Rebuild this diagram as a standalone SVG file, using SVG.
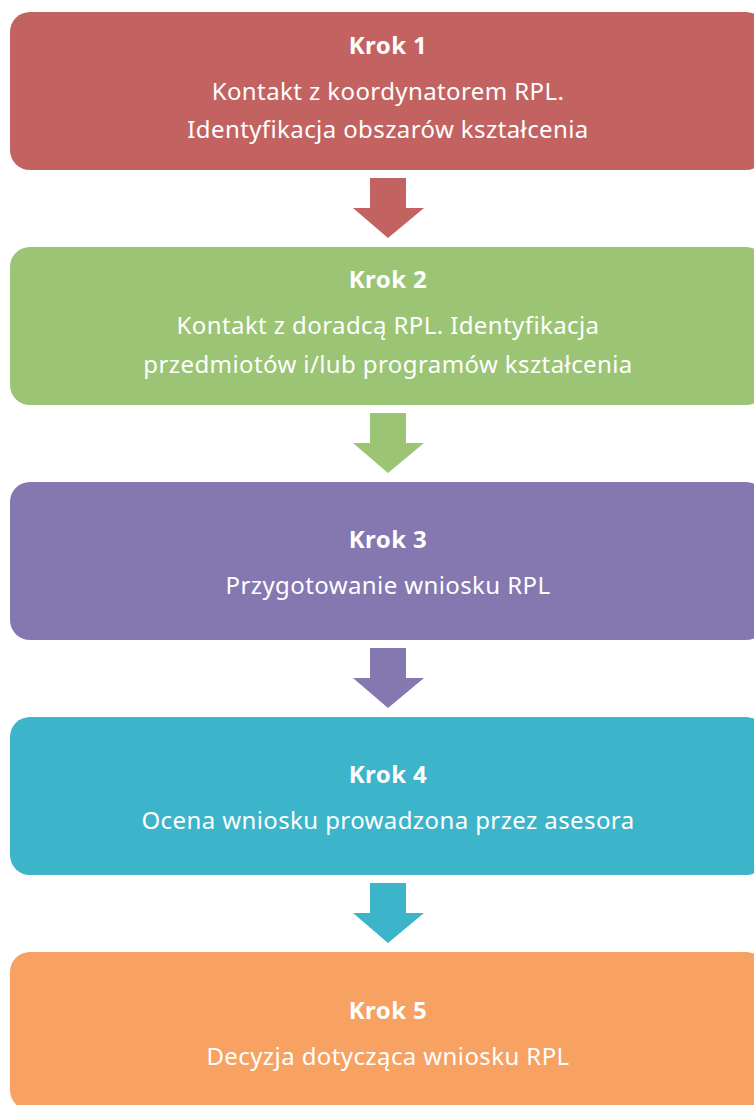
<svg xmlns="http://www.w3.org/2000/svg" width="754" height="1105" viewBox="0 0 754 1105">
<style>
.t{font-family:"Noto Sans",sans-serif;fill:#fff;text-anchor:middle;font-size:24px;letter-spacing:0.4px}
.h{font-weight:bold}
</style>
<rect width="754" height="1105" fill="#fff"/>
<g id="connectors">
<path d="M370,178 H406 V208 H424 L388,238 L353,208 H370 Z" fill="#C36361"/>
<path d="M370,413 H406 V443 H424 L388,473 L353,443 H370 Z" fill="#9BC475"/>
<path d="M370,648 H406 V678 H424 L388,708 L353,678 H370 Z" fill="#8577B0"/>
<path d="M370,883 H406 V913 H424 L388,943 L353,913 H370 Z" fill="#3CB4CA"/>
</g>
<g id="step1">
<rect x="10" y="12" width="756" height="158" rx="20" fill="#C36361"/>
<text class="t h" x="388" y="54">Krok 1</text>
<text class="t" x="388" y="100">Kontakt z koordynatorem RPL.</text>
<text class="t" x="388" y="138">Identyfikacja obszarów kształcenia</text>
</g>
<g id="step2">
<rect x="10" y="247" width="756" height="158" rx="20" fill="#9BC475"/>
<text class="t h" x="388" y="288">Krok 2</text>
<text class="t" x="388" y="334">Kontakt z doradcą RPL. Identyfikacja</text>
<text class="t" x="388" y="373">przedmiotów i/lub programów kształcenia</text>
</g>
<g id="step3">
<rect x="10" y="482" width="756" height="158" rx="20" fill="#8577B0"/>
<text class="t h" x="388" y="548">Krok 3</text>
<text class="t" x="388" y="594">Przygotowanie wniosku RPL</text>
</g>
<g id="step4">
<rect x="10" y="717" width="756" height="158" rx="20" fill="#3CB4CA"/>
<text class="t h" x="388" y="783">Krok 4</text>
<text class="t" x="388" y="829">Ocena wniosku prowadzona przez asesora</text>
</g>
<g id="step5">
<rect x="10" y="952" width="756" height="158" rx="20" fill="#F7A162"/>
<text class="t h" x="388" y="1019">Krok 5</text>
<text class="t" x="388" y="1065">Decyzja dotycząca wniosku RPL</text>
</g>
</svg>
